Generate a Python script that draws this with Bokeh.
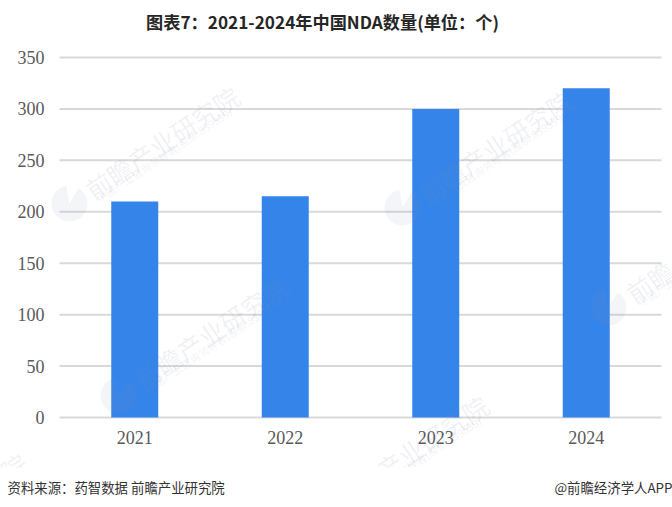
from bokeh.plotting import figure
from bokeh.models import Label, Range1d, FixedTicker, BoxAnnotation
from bokeh.embed import file_html
from bokeh.resources import INLINE

years = ["2021", "2022", "2023", "2024"]
counts = [210, 215, 300, 320]
y_ticks = [0, 50, 100, 150, 200, 250, 300, 350]
title_text = "图表7：2021-2024年中国NDA数量(单位：个)"
source_text = "资料来源：药智数据 前瞻产业研究院"
credit_text = "@前瞻经济学人APP"
wm_main = ["前瞻产业研究院", "前瞻产业研究院", "前瞻", "前瞻产业研究院", "前瞻产业研究院"]
wm_sub = ["中国产业咨询领导者(股票:839539)", "中国产业咨询领导者(股票:839539)", "中国产业",
          "中国产业咨询领导者(股票:839539)", "中国产业咨询领导者(股票:839539)"]

CJK = "Noto Sans CJK SC"
SERIF = "Liberation Serif"
W, H = 672, 507
LEFT, RIGHT, TOP, BOTTOM = 59, 661, 57, 417
px_per_cat = (RIGHT - LEFT) / len(years)
px_per_val = (BOTTOM - TOP) / max(y_ticks)


def dx(px):
    return (px - LEFT) / px_per_cat


def dy(py):
    return (BOTTOM - py) / px_per_val


p = figure(width=W, height=H, x_range=Range1d(dx(0), dx(W)), y_range=Range1d(dy(H), dy(0)),
           output_backend="svg", toolbar_location=None,
           min_border_left=0, min_border_right=0, min_border_top=0, min_border_bottom=0)
p.outline_line_color = None
p.background_fill_color = "white"
p.grid.visible = False

positions = [i + 0.5 for i in range(len(years))]

# gridlines run across the category span only
p.segment(x0=[0] * len(y_ticks), x1=[len(years)] * len(y_ticks), y0=y_ticks, y1=y_ticks,
          line_color="#D9D9D9", line_width=2)
p.vbar(x=positions, top=counts, width=47 / px_per_cat, color="#3584E9", line_color=None)

p.xaxis.fixed_location = 0
p.xaxis.ticker = FixedTicker(ticks=positions)
p.xaxis.major_label_overrides = dict(zip(positions, years))
p.xaxis.axis_line_color = None
p.xaxis.major_tick_line_color = None
p.xaxis.minor_tick_line_color = None
p.xaxis.major_label_text_font = SERIF
p.xaxis.major_label_text_font_size = "18px"
p.xaxis.major_label_text_color = "#595959"
p.xaxis.major_label_standoff = 7

p.yaxis.fixed_location = 0
p.yaxis.ticker = FixedTicker(ticks=y_ticks)
p.yaxis.axis_line_color = None
p.yaxis.major_tick_line_color = None
p.yaxis.minor_tick_line_color = None
p.yaxis.major_label_text_font = SERIF
p.yaxis.major_label_text_font_size = "18px"
p.yaxis.major_label_text_color = "#595959"
p.yaxis.major_label_standoff = 9


def label(x, y, text, **kw):
    p.add_layout(Label(x=x, y=H - y, x_units="screen", y_units="screen", text=text, **kw))


# watermark logos sit over the bars
logo_px = [(69, 203), (402, 207), (608, 307), (118, 395)]
p.wedge(x=[dx(a) for a, _ in logo_px], y=[dy(b) for _, b in logo_px], radius=18, radius_units="screen",
        start_angle=100, end_angle=60, start_angle_units="deg", end_angle_units="deg",
        fill_color="#8090B0", fill_alpha=0.09, line_color=None)

wm_origin = [(67, 203), (400, 207), (608, 307), (116, 393), (316, 512)]
for (ox, oy), main, sub in zip(wm_origin, wm_main, wm_sub):
    label(ox + 20, oy - 12, main, text_font=CJK, text_font_size="25.5px", text_color="#8090B0",
          text_alpha=0.13, angle=33.7, angle_units="deg", text_align="left",
          text_baseline="alphabetic")
    label(ox + 30, oy - 4, sub, text_font=CJK, text_font_size="10.5px", text_color="#8090B0",
          text_alpha=0.13, angle=33.7, angle_units="deg", text_align="left",
          text_baseline="alphabetic")
label(2, 473, "院", text_font=CJK, text_font_size="25.5px", text_color="#8090B0", text_alpha=0.13,
      angle=33.7, angle_units="deg", text_align="left", text_baseline="alphabetic")

# the reference's picture ends at the footer band, so the watermark stops there
p.add_layout(BoxAnnotation(left=dx(0), right=dx(W), bottom=dy(H), top=dy(467), fill_color="white",
                           fill_alpha=1, line_color=None, level="overlay"))

label(322, 21, title_text, text_font=CJK, text_font_size="17.2px", text_font_style="bold",
      text_color="#262626", text_align="center", text_baseline="middle", level="overlay")
label(7, 486, source_text, text_font=CJK, text_font_size="13.4px", text_color="#333333",
      text_align="left", text_baseline="middle", level="overlay")
label(672, 486, credit_text, text_font=CJK, text_font_size="13.4px", text_color="#333333",
      text_align="right", text_baseline="middle", level="overlay")

open("out.html", "w").write(file_html(p, INLINE))
